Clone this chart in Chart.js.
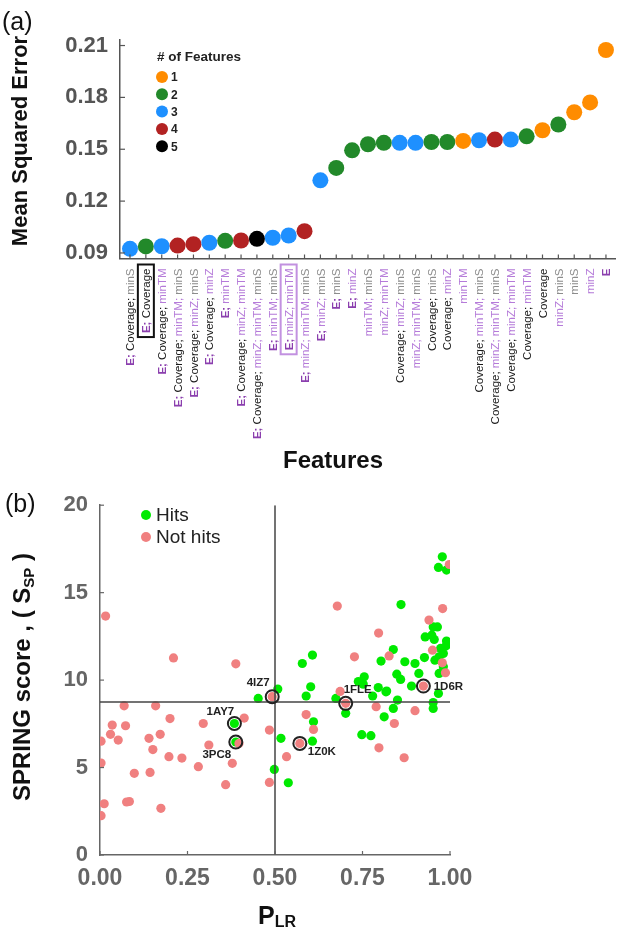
<!DOCTYPE html>
<html>
<head>
<meta charset="utf-8">
<script src="https://cdn.jsdelivr.net/npm/chart.js@4"></script>
<style>
  body { margin: 0; background: #fff; }
  canvas { display: block; }
</style>
</head>
<body>
<canvas id="mse" width="629" height="480"></canvas>
<canvas id="spring" width="629" height="449"></canvas>
<script>
// ---- panel (a) data ----
const featureLabels = [
  'E; Coverage; minS', 'E; Coverage', 'E; Coverage; minTM', 'E; Coverage; minTM; minS',
  'E; Coverage; minZ; minS', 'E; Coverage; minZ', 'E; minTM', 'E; Coverage; minZ; minTM',
  'E; Coverage; minZ; minTM; minS', 'E; minTM; minS', 'E; minZ; minTM', 'E; minZ; minTM; minS',
  'E; minZ; minS', 'E; minS', 'E; minZ', 'minTM; minS', 'minZ; minTM', 'Coverage; minZ; minS',
  'minZ; minTM; minS', 'Coverage; minS', 'Coverage; minZ', 'minTM', 'Coverage; minTM; minS',
  'Coverage; minZ; minTM; minS', 'Coverage; minZ; minTM', 'Coverage; minTM', 'Coverage',
  'minZ; minS', 'minS', 'minZ', 'E'
];
const mseValues = [
  0.0924, 0.0938, 0.0939, 0.0943, 0.0951, 0.0959, 0.0970, 0.0972, 0.0982, 0.0988, 0.1001, 0.1026,
  0.1320, 0.1392, 0.1494, 0.1529, 0.1537, 0.1537, 0.1537, 0.1542, 0.1542, 0.1548, 0.1552, 0.1556,
  0.1556, 0.1575, 0.1610, 0.1643, 0.1714, 0.1771, 0.2074
];
const mseTicks = [0.09, 0.12, 0.15, 0.18, 0.21];
const countLabels = ['1', '2', '3', '4', '5'];
const countColors = ['#ff8c00', '#22892a', '#1e90ff', '#b22222', '#000000'];

// ---- panel (b) data ----
const hitsPts = [
  [0.452, 8.95], [0.508, 9.49], [0.578, 10.95], [0.607, 11.43], [0.602, 9.62], [0.589, 9.09],
  [0.517, 6.67], [0.498, 4.89], [0.538, 4.13], [0.610, 7.62], [0.607, 6.51], [0.674, 8.95],
  [0.702, 8.10], [0.748, 6.88], [0.774, 6.82], [0.812, 7.90], [0.838, 8.38], [0.850, 8.86],
  [0.817, 9.33], [0.952, 8.72], [0.952, 8.38], [0.779, 9.09], [0.978, 17.05], [0.967, 16.44],
  [0.990, 16.29], [0.860, 14.32], [0.952, 13.04], [0.964, 13.04], [0.929, 12.47], [0.948, 12.57],
  [0.955, 12.32], [0.990, 12.23], [0.989, 11.96], [0.973, 11.81], [0.981, 11.52], [0.969, 11.33],
  [0.957, 11.14], [0.838, 11.75], [0.927, 11.29], [0.803, 11.09], [0.871, 11.05], [0.900, 10.95],
  [0.981, 10.76], [0.911, 10.38], [0.969, 10.38], [0.848, 10.34], [0.859, 10.04], [0.890, 9.66],
  [0.755, 10.19], [0.738, 9.92], [0.795, 9.57], [0.819, 9.37], [0.752, 9.77], [0.967, 9.24],
  [0.384, 7.52], [0.388, 6.46]
];
const notHitsPts = [
  [0.016, 13.66], [0.210, 11.27], [0.388, 10.93], [0.069, 8.53], [0.159, 8.53], [0.200, 7.80],
  [0.035, 7.43], [0.073, 7.39], [0.030, 6.90], [0.003, 6.51], [0.052, 6.57], [0.140, 6.67],
  [0.172, 6.90], [0.151, 6.03], [0.295, 7.52], [0.311, 6.29], [0.412, 7.83], [0.484, 7.14],
  [0.397, 6.38], [0.197, 5.62], [0.234, 5.54], [0.281, 5.05], [0.378, 5.24], [0.003, 5.26],
  [0.098, 4.67], [0.143, 4.72], [0.359, 4.02], [0.484, 4.15], [0.012, 2.93], [0.076, 3.03],
  [0.084, 3.06], [0.174, 2.67], [0.003, 2.25], [0.533, 5.62], [0.589, 8.03], [0.610, 7.18],
  [0.789, 8.48], [0.841, 7.52], [0.797, 6.13], [0.869, 5.56], [0.900, 8.25], [0.686, 9.35],
  [0.678, 14.23], [0.998, 16.61], [0.979, 14.09], [0.796, 12.69], [0.940, 13.43], [0.727, 11.33],
  [0.826, 11.38], [0.950, 11.71], [0.978, 10.99], [0.987, 10.42],
  [0.492, 9.05], [0.571, 6.38], [0.702, 8.67], [0.924, 9.66]
];
const pdbNames = ['4IZ7', '1AY7', '3PC8', '1Z0K', '1FLE', '1D6R'];
const pdbX = [0.492, 0.384, 0.388, 0.571, 0.702, 0.924];
const pdbY = [9.05, 7.52, 6.46, 6.38, 8.67, 9.66];
const pLRCutoff = 0.5;
const springCutoff = 8.75;

// label offsets (px) for the pdb names
const pdbOffsets = [[-14, -14], [-14, -12], [-19, 13], [22, 8], [12, -14], [25, 1]];

function tokenStyle(t) {
  if (t === 'E') return ['bold', '#8b3fae'];
  if (t === 'Coverage') return ['normal', '#1a1a1a'];
  if (t === 'minS') return ['normal', '#8c8c8c'];
  return ['normal', '#b57bd9'];
}

const boxedLabels = { 1: '#111111', 10: '#c291e0' };

const mseDecor = {
  id: 'mseDecor',
  afterDraw(chart) {
    const { ctx, chartArea: { left, bottom }, scales: { x, y } } = chart;
    ctx.save();
    // inward tick marks
    ctx.strokeStyle = '#555';
    ctx.lineWidth = 1.2;
    featureLabels.forEach((l, i) => {
      const px = x.getPixelForValue(i);
      ctx.beginPath(); ctx.moveTo(px, bottom); ctx.lineTo(px, bottom - 4); ctx.stroke();
    });
    mseTicks.forEach(v => {
      const py = y.getPixelForValue(v);
      ctx.beginPath(); ctx.moveTo(left, py); ctx.lineTo(left + 5, py); ctx.stroke();
    });

    // rotated multi-coloured feature labels
    const top = bottom + 10;
    featureLabels.forEach((lbl, i) => {
      const px = x.getPixelForValue(i);
      ctx.save();
      ctx.translate(px, top);
      ctx.rotate(-Math.PI / 2);
      ctx.textBaseline = 'middle';
      const toks = lbl.split('; ');
      const parts = toks.map((t, k) => ({ t: k < toks.length - 1 ? t + '; ' : t, s: tokenStyle(t) }));
      let w = 0;
      parts.forEach(p => { ctx.font = p.s[0] + ' 11.5px Arial'; p.w = ctx.measureText(p.t).width; w += p.w; });
      let cx = -w;
      parts.forEach(p => {
        ctx.font = p.s[0] + ' 11.5px Arial';
        ctx.fillStyle = p.s[1];
        ctx.fillText(p.t, cx, 1);
        cx += p.w;
      });
      ctx.restore();
      if (boxedLabels[i]) {
        ctx.strokeStyle = boxedLabels[i];
        ctx.lineWidth = 2;
        ctx.strokeRect(px - 8, top - 4, 16, w + 8);
      }
    });

    // titles
    ctx.fillStyle = '#111';
    ctx.font = 'bold 24px Arial';
    ctx.textAlign = 'center';
    ctx.textBaseline = 'middle';
    ctx.fillText('Features', 333, 461);
    ctx.save();
    ctx.translate(21, 141);
    ctx.rotate(-Math.PI / 2);
    ctx.font = 'bold 22px Arial';
    ctx.fillText('Mean Squared Error', 0, 0);
    ctx.restore();
    ctx.textAlign = 'left';
    ctx.font = '25px Arial';
    ctx.fillText('(a)', 2, 23);

    // legend
    ctx.font = 'bold 13.5px Arial';
    ctx.fillStyle = '#222';
    ctx.fillText('# of Features', 157, 57);
    countLabels.forEach((c, k) => {
      const cy = 77 + k * 17.3;
      ctx.fillStyle = countColors[k];
      ctx.beginPath(); ctx.arc(162, cy, 6, 0, Math.PI * 2); ctx.fill();
      ctx.fillStyle = '#222';
      ctx.font = 'bold 12px Arial';
      ctx.fillText(c, 171, cy + 1);
    });
    ctx.restore();
  }
};

new Chart(document.getElementById('mse'), {
  type: 'scatter',
  data: {
    datasets: [{
      data: mseValues.map((v, i) => ({ x: i, y: v })),
      pointBackgroundColor: featureLabels.map(l => countColors[l.split(';').length - 1]),
      pointBorderWidth: 0,
      pointRadius: 8,
      pointHoverRadius: 8
    }]
  },
  options: {
    responsive: false,
    animation: false,
    layout: { padding: { top: 40, right: 14 } },
    plugins: { legend: { display: false }, tooltip: { enabled: false } },
    scales: {
      x: {
        type: 'linear',
        min: -0.63,
        max: 30.57,
        grid: { display: false, drawTicks: false },
        border: { display: true, color: '#555', width: 1.5 },
        ticks: { display: false },
        afterFit: s => { s.height = 221.5; }
      },
      y: {
        min: 0.0868,
        max: 0.2132,
        grid: { display: false, drawTicks: false },
        border: { display: true, color: '#555', width: 1.5 },
        afterBuildTicks: s => { s.ticks = mseTicks.map(v => ({ value: v })); },
        ticks: {
          padding: 12,
          color: '#555',
          font: { family: 'Arial', size: 22, weight: 'bold' },
          callback: v => v.toFixed(2)
        },
        afterFit: s => { s.width = 120; }
      }
    }
  },
  plugins: [mseDecor]
});

// ---- panel (b) ----
const xTicksB = [0, 0.25, 0.5, 0.75, 1];
const yTicksB = [0, 5, 10, 15, 20];

const springDecor = {
  id: 'springDecor',
  afterDatasetsDraw(chart) {
    const { ctx, chartArea: { left, bottom }, scales: { x, y } } = chart;
    ctx.save();
    ctx.strokeStyle = '#666';
    ctx.lineWidth = 1.2;
    xTicksB.forEach(v => {
      const px = x.getPixelForValue(v);
      ctx.beginPath(); ctx.moveTo(px, bottom); ctx.lineTo(px, bottom - 4); ctx.stroke();
    });
    yTicksB.forEach(v => {
      const py = y.getPixelForValue(v);
      ctx.beginPath(); ctx.moveTo(left, py); ctx.lineTo(left + 4, py); ctx.stroke();
    });

    // pdb labels
    const meta = chart.getDatasetMeta(2);
    ctx.fillStyle = '#222';
    ctx.font = 'bold 11.5px Arial';
    ctx.textAlign = 'center';
    ctx.textBaseline = 'middle';
    meta.data.forEach((pt, i) => {
      ctx.fillText(pdbNames[i], pt.x + pdbOffsets[i][0], pt.y + pdbOffsets[i][1]);
    });

    // legend
    ctx.textAlign = 'left';
    ctx.font = '19px Arial';
    [['#00ea00', 'Hits', 35], ['#f08080', 'Not hits', 57]].forEach(([c, t, cy]) => {
      ctx.fillStyle = c;
      ctx.beginPath(); ctx.arc(146, cy, 5, 0, Math.PI * 2); ctx.fill();
      ctx.fillStyle = '#222';
      ctx.fillText(t, 156, cy + 1);
    });

    // panel label
    ctx.fillStyle = '#111';
    ctx.font = '25px Arial';
    ctx.fillText('(b)', 5, 25);

    // x title P_LR
    ctx.textBaseline = 'alphabetic';
    ctx.font = 'bold 25px Arial';
    const wP = ctx.measureText('P').width;
    ctx.font = 'bold 16px Arial';
    const wLR = ctx.measureText('LR').width;
    const x0 = 277 - (wP + wLR) / 2;
    ctx.font = 'bold 25px Arial';
    ctx.fillText('P', x0, 444);
    ctx.font = 'bold 16px Arial';
    ctx.fillText('LR', x0 + wP, 447);

    // y title SPRING score , ( S_SP )
    ctx.save();
    ctx.translate(30, 197);
    ctx.rotate(-Math.PI / 2);
    const segs = [['SPRING score , ( S', 'bold 24px Arial', 0], ['SP', 'bold 15px Arial', 4], [' )', 'bold 24px Arial', 0]];
    let tw = 0;
    segs.forEach(s => { ctx.font = s[1]; s.push(ctx.measureText(s[0]).width); tw += s[3]; });
    let sx = -tw / 2;
    segs.forEach(s => { ctx.font = s[1]; ctx.fillText(s[0], sx, s[2]); sx += s[3]; });
    ctx.restore();
    ctx.restore();
  }
};

new Chart(document.getElementById('spring'), {
  type: 'scatter',
  data: {
    datasets: [
      {
        label: 'Not hits',
        data: notHitsPts.map(p => ({ x: p[0], y: p[1] })),
        backgroundColor: '#f08080',
        pointRadius: 4.6,
        pointBorderWidth: 0,
        order: 2
      },
      {
        label: 'Hits',
        data: hitsPts.map(p => ({ x: p[0], y: p[1] })),
        backgroundColor: '#00ea00',
        pointRadius: 4.6,
        pointBorderWidth: 0,
        order: 3
      },
      {
        label: 'pdb',
        data: pdbX.map((v, i) => ({ x: v, y: pdbY[i] })),
        backgroundColor: 'rgba(0,0,0,0)',
        borderColor: '#222',
        pointRadius: 6.5,
        pointBorderWidth: 2,
        order: 0
      },
      {
        type: 'line',
        label: 'pcut',
        data: [{ x: pLRCutoff, y: 0 }, { x: pLRCutoff, y: 20 }],
        borderColor: '#444',
        borderWidth: 1.5,
        pointRadius: 0,
        order: 1
      },
      {
        type: 'line',
        label: 'scut',
        data: [{ x: 0, y: springCutoff }, { x: 1, y: springCutoff }],
        borderColor: '#444',
        borderWidth: 1.5,
        pointRadius: 0,
        order: 1
      }
    ]
  },
  options: {
    responsive: false,
    animation: false,
    layout: { padding: { top: 25, right: 179 } },
    plugins: { legend: { display: false }, tooltip: { enabled: false } },
    scales: {
      x: {
        type: 'linear',
        min: 0,
        max: 1,
        grid: { display: false, drawTicks: false },
        border: { display: true, color: '#666', width: 1.5 },
        afterBuildTicks: s => { s.ticks = xTicksB.map(v => ({ value: v })); },
        ticks: {
          padding: 10,
          color: '#666',
          font: { family: 'Arial', size: 23, weight: 'bold' },
          callback: v => v.toFixed(2)
        },
        afterFit: s => { s.height = 74; }
      },
      y: {
        min: 0,
        max: 20,
        grid: { display: false, drawTicks: false },
        border: { display: true, color: '#666', width: 1.5 },
        afterBuildTicks: s => { s.ticks = yTicksB.map(v => ({ value: v })); },
        ticks: {
          padding: 12,
          color: '#666',
          font: { family: 'Arial', size: 22, weight: 'bold' }
        },
        afterFit: s => { s.width = 100; }
      }
    }
  },
  plugins: [springDecor]
});
</script>
</body>
</html>
